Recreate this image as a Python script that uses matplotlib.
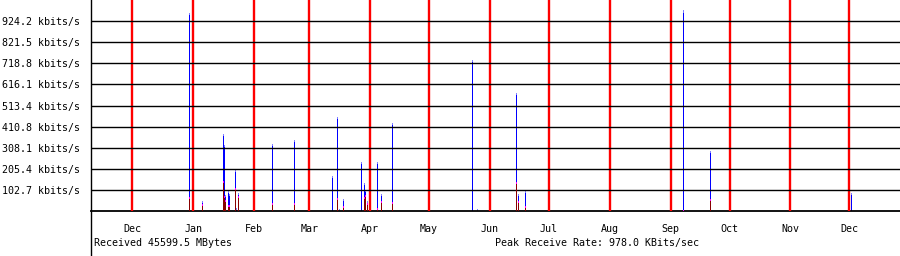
import matplotlib
matplotlib.use("Agg")
import matplotlib.pyplot as plt
import matplotlib.dates as mdates
from matplotlib.lines import Line2D
import pandas as pd

# sample times of the spikes (yearly view, half-day buckets)
sample_times = [
    "2002-12-29 17:00", "2003-01-05 15:00", "2003-01-16 07:00", "2003-01-16 20:00",
    "2003-01-17 08:00", "2003-01-18 21:00", "2003-01-19 09:00", "2003-01-22 10:00",
    "2003-01-22 23:00", "2003-01-23 23:00", "2003-02-10 06:00", "2003-02-21 11:00",
    "2003-03-12 19:00", "2003-03-15 09:00", "2003-03-16 09:00", "2003-03-18 10:00",
    "2003-03-27 14:00", "2003-03-29 02:00", "2003-03-29 15:00", "2003-03-30 15:00",
    "2003-04-04 17:00", "2003-04-06 18:00", "2003-04-07 06:00", "2003-04-12 09:00",
    "2003-05-22 19:00", "2003-05-25 15:00", "2003-06-14 12:00", "2003-06-15 12:00",
    "2003-06-19 01:00", "2003-09-07 12:00", "2003-09-21 06:00", "2003-12-01 20:00",
]
# receive rate, kbit/s (blue)
rx_kbps = [
    962, 49, 374, 321, 80, 99, 83, 199,
    16, 89, 326, 345, 170, 456, 10, 58,
    237, 135, 102, 50, 237, 84, 5, 427,
    733, 10, 575, 81, 96, 976, 290, 86,
]
# transmit rate, kbit/s (dark red)
tx_kbps = [
    70, 34, 146, 73, 55, 29, 29, 112,
    0, 73, 39, 37, 0, 62, 0, 24,
    0, 70, 78, 40, 13, 50, 0, 42,
    0, 0, 140, 50, 26, 5, 57, 0,
]

ytick_vals = [102.7, 205.4, 308.1, 410.8, 513.4, 616.1, 718.8, 821.5, 924.2]
ytick_labels = ["102.7 kbits/s", "205.4 kbits/s", "308.1 kbits/s", "410.8 kbits/s",
                "513.4 kbits/s", "616.1 kbits/s", "718.8 kbits/s", "821.5 kbits/s",
                "924.2 kbits/s"]
y_max = 1027.0

x_start = "2002-11-09 23:00"
x_end = "2003-12-26 19:00"

total_text = "Received 45599.5 MBytes"
peak_text = "Peak Receive Rate: 978.0 KBits/sec"

mono = "DejaVu Sans Mono"
fs = 7.2

df = pd.DataFrame({"t": pd.to_datetime(sample_times), "rx": rx_kbps, "tx": tx_kbps})

fig = plt.figure(figsize=(9, 2.56), dpi=100)
ax = fig.add_axes([91 / 900, 45 / 256, 809 / 900, 211 / 256])

cap = 5.0  # about one pixel in kbit/s
lw = 0.72  # one pixel

# blue receive spikes, with a light cap
ax.vlines(df["t"], 0, df["rx"], color="#0000ff", lw=lw, zorder=2, antialiased=False)
ax.vlines(df["t"], df["rx"] - cap, df["rx"], color="#8080ff", lw=lw, zorder=2,
          antialiased=False)
# dark red transmit spikes on top
tx = df[df["tx"] > 0]
ax.vlines(tx["t"], 0, tx["tx"], color="#880000", lw=lw, zorder=3, antialiased=False)
ax.vlines(tx["t"], tx["tx"] - cap, tx["tx"], color="#ff00ff", lw=lw, zorder=3,
          antialiased=False)

ax.set_xlim(pd.Timestamp(x_start), pd.Timestamp(x_end))
ax.set_ylim(0, y_max)

ax.set_axisbelow(False)
ax.xaxis.set_major_locator(mdates.MonthLocator())
ax.xaxis.set_major_formatter(mdates.DateFormatter("%b"))
ax.set_yticks(ytick_vals)
ax.set_yticklabels(ytick_labels)
ax.xaxis.grid(True, color="#ff0000", lw=1.7, zorder=4)
ax.yaxis.grid(True, color="black", lw=1.0, zorder=4)

ax.tick_params(axis="both", length=0, labelsize=fs)
ax.tick_params(axis="x", pad=9)
ax.tick_params(axis="y", pad=8)
for lab in ax.get_xticklabels() + ax.get_yticklabels():
    lab.set_family(mono)

for side in ["top", "right", "left"]:
    ax.spines[side].set_visible(False)
ax.spines["bottom"].set_linewidth(1.3)

# left rule runs the full height of the image
fig.add_artist(Line2D([90.5 / 900, 90.5 / 900], [0, 1], color="black", lw=1.0,
                      transform=fig.transFigure))

fig.text(94 / 900, 1 - 243 / 256, total_text, family=mono, fontsize=fs, va="center")
fig.text(495 / 900, 1 - 243 / 256, peak_text, family=mono, fontsize=fs, va="center")

fig.savefig("out.png", dpi=100, facecolor="white")
